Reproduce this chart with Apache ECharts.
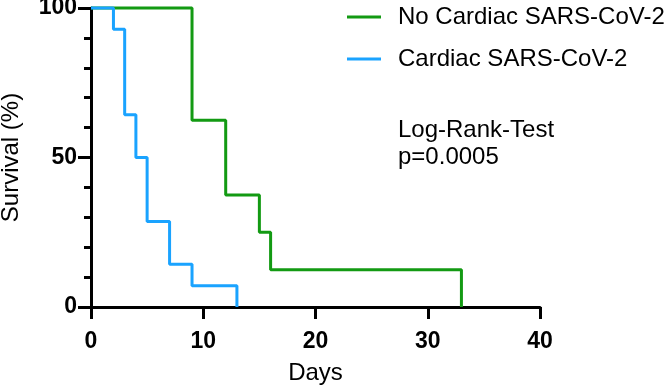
<!DOCTYPE html>
<html>
<head>
<meta charset="utf-8">
<script src="https://cdn.jsdelivr.net/npm/echarts@6/dist/echarts.min.js"></script>
<style>
  html, body { margin: 0; padding: 0; background: #fff; }
  #survival { width: 666px; height: 386px; }
</style>
</head>
<body>
<div id="survival"></div>
<script>
  // Kaplan-Meier steps: day of event and survival (%) after it
  const noCardiacDays = [0, 9, 12, 15, 16, 33]
  const noCardiacSurv = [100, 62.5, 37.5, 25, 12.5, 0]
  const cardiacDays = [0, 2, 3, 4, 5, 7, 9, 13]
  const cardiacSurv = [100, 92.86, 64.29, 50, 28.57, 14.29, 7.14, 0]
  const seriesNames = ['No Cardiac SARS-CoV-2', 'Cardiac SARS-CoV-2']
  const xTicks = [0, 10, 20, 30, 40]
  const yTicks = [0, 50, 100]

  const font = 'Liberation Sans, Arial, Helvetica, sans-serif'
  const green = '#139a13'
  const blue = '#1aa3ff'

  function pairs(days, surv) {
    const out = []
    for (let i = 0; i < days.length; i++) {
      out.push([days[i], surv[i]])
    }
    return out
  }

  const chart = echarts.init(document.getElementById('survival'))
  chart.setOption({
    animation: false,
    backgroundColor: '#fff',
    title: {
      text: 'Log-Rank-Test\np=0.0005',
      left: 398,
      top: 117,
      padding: 0,
      textStyle: {
        fontFamily: font,
        fontSize: 24,
        fontWeight: 'normal',
        lineHeight: 27,
        color: '#000'
      }
    },
    legend: {
      data: seriesNames,
      orient: 'vertical',
      left: 347,
      top: 5,
      padding: 0,
      itemWidth: 34,
      itemHeight: 3,
      itemGap: 18,
      icon: 'rect',
      textStyle: {
        fontFamily: font,
        fontSize: 24,
        color: '#000',
        padding: [0, 0, 0, 12]
      }
    },
    grid: {
      left: 91,
      right: 126,
      top: 8,
      bottom: 79,
      outerBoundsMode: 'none'
    },
    xAxis: {
      type: 'value',
      min: xTicks[0],
      max: xTicks[xTicks.length - 1],
      interval: 10,
      name: 'Days',
      nameLocation: 'middle',
      nameGap: 54,
      nameTextStyle: { fontFamily: font, fontSize: 24, color: '#000' },
      axisLine: { show: true, lineStyle: { color: '#000', width: 3 } },
      axisTick: { show: true, length: 12, lineStyle: { color: '#000', width: 3 } },
      axisLabel: {
        margin: 23,
        fontFamily: font,
        fontSize: 23,
        fontWeight: 'bold',
        color: '#000'
      },
      splitLine: { show: false }
    },
    yAxis: {
      type: 'value',
      min: yTicks[0],
      max: yTicks[yTicks.length - 1],
      interval: 50,
      name: 'Survival (%)',
      nameLocation: 'middle',
      nameGap: 68,
      nameTextStyle: { fontFamily: font, fontSize: 24, color: '#000' },
      axisLine: { show: true, lineStyle: { color: '#000', width: 3 } },
      axisTick: { show: true, length: 13, lineStyle: { color: '#000', width: 3 } },
      minorTick: { show: true, splitNumber: 5, length: 7, lineStyle: { color: '#000', width: 3 } },
      axisLabel: {
        margin: 14,
        fontFamily: font,
        fontSize: 23,
        fontWeight: 'bold',
        color: '#000'
      },
      splitLine: { show: false },
      minorSplitLine: { show: false }
    },
    series: [
      {
        name: seriesNames[0],
        type: 'line',
        step: 'end',
        showSymbol: false,
        clip: false,
        z: 3,
        color: green,
        lineStyle: { width: 3, color: green },
        data: pairs(noCardiacDays, noCardiacSurv)
      },
      {
        name: seriesNames[1],
        type: 'line',
        step: 'end',
        showSymbol: false,
        clip: false,
        z: 4,
        color: blue,
        lineStyle: { width: 3, color: blue },
        data: pairs(cardiacDays, cardiacSurv)
      }
    ]
  })
</script>
</body>
</html>
